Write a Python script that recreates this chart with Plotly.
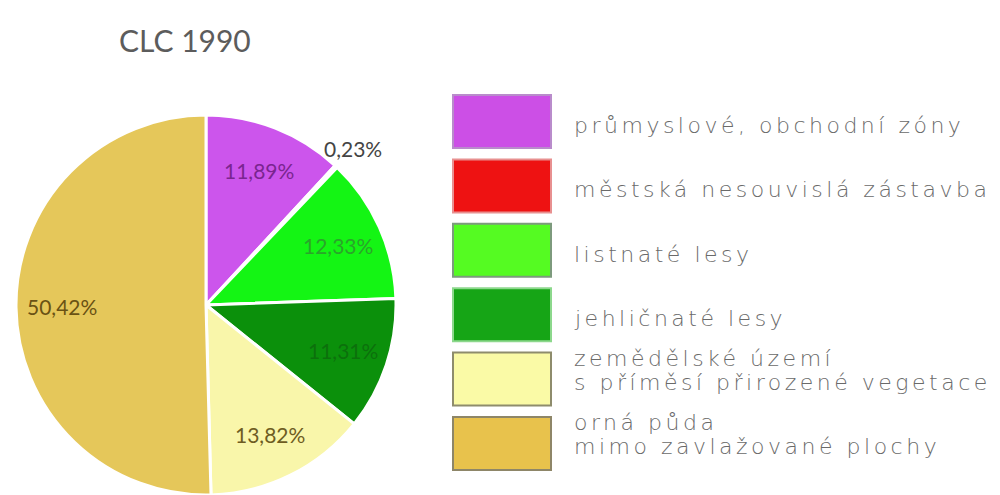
import math
import plotly.graph_objects as go

# Land cover shares, CLC 1990
categories = [
    "průmyslové, obchodní zóny",
    "městská nesouvislá zástavba",
    "listnaté lesy",
    "jehličnaté lesy",
    "zemědělské území<br>s příměsí přirozené vegetace",
    "orná půda<br>mimo zavlažované plochy",
]
shares = [11.89, 0.23, 12.33, 11.31, 13.82, 50.42]
value_labels = ["11,89%", "0,23%", "12,33%", "11,31%", "13,82%", "50,42%"]

slice_colors = ["#cc55ec", "#ee1111", "#14f514", "#0b900b", "#f9f6aa", "#e5c75a"]
label_colors = ["#7a2590", "#444444", "#2aa52a", "#0c700c", "#6e5c22", "#6a5214"]
box_fill = ["#cc4fe6", "#ee1212", "#55fb22", "#16a516", "#fafaa6", "#e8c24c"]
box_line = ["#b98ccb", "#e89090", "#7d9a7d", "#8cd88c", "#8e8c6c", "#8e8668"]

W, H = 1000, 495
cx, cy, r = 206, 305, 190  # pie centre / radius in pixels

fig = go.Figure()
fig.add_trace(go.Pie(
    values=shares,
    labels=[c.replace("<br>", " ") for c in categories],
    sort=False,
    direction="clockwise",
    rotation=0,
    marker=dict(colors=slice_colors, line=dict(color="white", width=3)),
    textinfo="none",
    hoverinfo="label+percent",
    showlegend=False,
    domain=dict(x=[(cx - r) / W, (cx + r) / W], y=[(H - cy - r) / H, (H - cy + r) / H]),
))

annotations = []
# value labels placed along each slice's bisector
total = sum(shares)
cum = 0.0
for i, v in enumerate(shares):
    mid = (cum + v / 2) / total * 2 * math.pi
    cum += v
    rad = r * (1.13 if v < 1 else 0.76)
    px = cx + rad * math.sin(mid)
    py = cy - rad * math.cos(mid)
    annotations.append(dict(
        x=px / W, y=1 - py / H, xref="paper", yref="paper",
        text=value_labels[i], showarrow=False,
        font=dict(family="Lato", size=21, color=label_colors[i]),
        xanchor="center", yanchor="middle",
    ))

annotations.append(dict(
    x=185 / W, y=1 - 40 / H, xref="paper", yref="paper",
    text="CLC 1990", showarrow=False,
    font=dict(family="Lato", size=30, color="#5c5c5c"),
    xanchor="center", yanchor="middle",
))

# custom legend: large swatches with captions
shapes = []
box_x0, box_x1 = 453, 551
box_top, box_step, box_h = 95, 64.4, 53
line_gap = 24
for i, name in enumerate(categories):
    y0 = box_top + i * box_step
    y1 = y0 + box_h
    shapes.append(dict(
        type="rect", xref="paper", yref="paper",
        x0=box_x0 / W, x1=box_x1 / W, y0=1 - y1 / H, y1=1 - y0 / H,
        fillcolor=box_fill[i], line=dict(color=box_line[i], width=2),
    ))
    lines = name.split("<br>")
    first_y = (y0 + y1) / 2 + (4 if len(lines) == 1 else -21)
    for k, line in enumerate(lines):
        ty = first_y + k * line_gap
        annotations.append(dict(
            x=572 / W, y=1 - ty / H, xref="paper", yref="paper",
            text='<span style="letter-spacing:3.5px">' + line + "</span>",
            showarrow=False, align="left",
            font=dict(family="DejaVu Sans", size=22, color="#6a6a6a", weight=300),
            xanchor="left", yanchor="middle",
        ))

fig.update_layout(
    width=W, height=H,
    margin=dict(l=0, r=0, t=0, b=0),
    paper_bgcolor="white", plot_bgcolor="white",
    shapes=shapes, annotations=annotations,
)

fig.write_html("out.html")
